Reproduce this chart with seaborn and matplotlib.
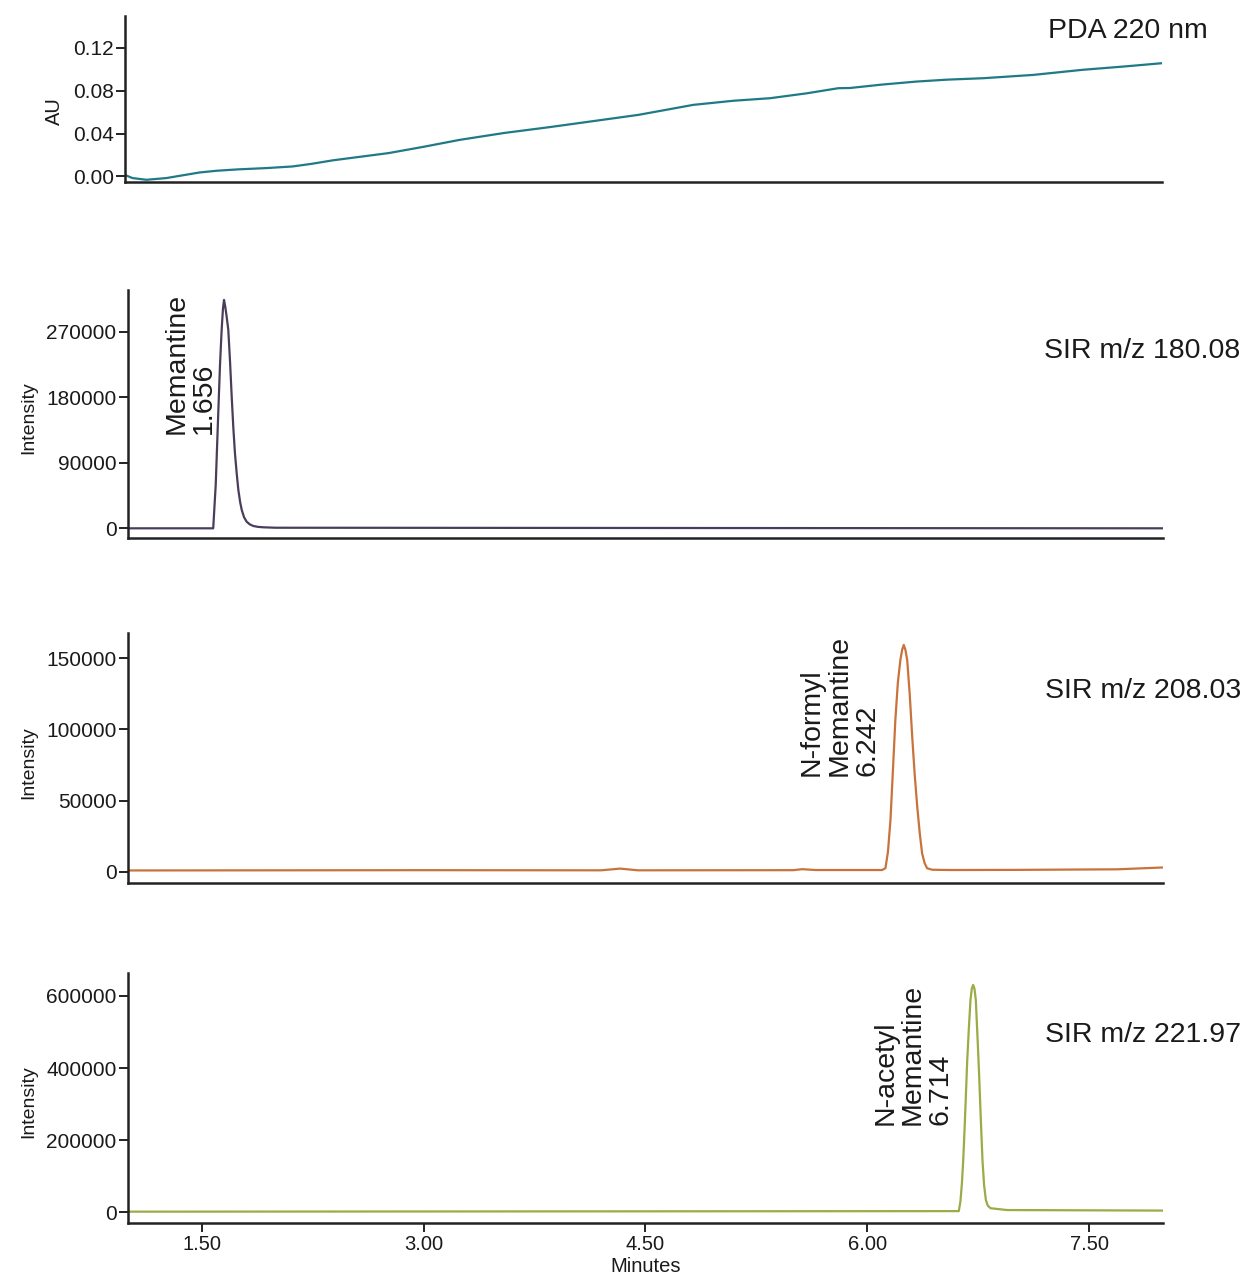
import matplotlib
matplotlib.use("Agg")
import matplotlib.pyplot as plt
import seaborn as sns
import pandas as pd

# ---------------- data ----------------
pda_time = [0.981, 1.036, 1.13, 1.265, 1.489, 1.604, 1.75, 1.942, 2.118, 2.25, 2.39,
            2.77, 3.0, 3.25, 3.55, 3.86, 4.15, 4.46, 4.83, 5.1, 5.35, 5.6, 5.81, 5.89,
            6.1, 6.34, 6.55, 6.79, 7.13, 7.46, 7.75, 8.0]
pda_au = [0.0016, -0.0015, -0.0031, -0.0015, 0.0037, 0.0053, 0.0066, 0.0078, 0.0093,
          0.0118, 0.015, 0.0218, 0.0275, 0.0341, 0.0405, 0.046, 0.0515, 0.0574, 0.0667,
          0.0705, 0.0729, 0.0775, 0.0822, 0.0824, 0.0855, 0.0884, 0.0902, 0.0915,
          0.0946, 0.0993, 0.1025, 0.1055]

sir180_time = [1.0, 1.578, 1.595, 1.612, 1.624, 1.635, 1.644, 1.651, 1.659, 1.668,
               1.680, 1.692, 1.703, 1.714, 1.725, 1.737, 1.748, 1.760, 1.771, 1.787,
               1.804, 1.825, 1.849, 1.880, 1.917, 2.0, 8.0]
sir180_int = [0, 0, 60000, 158000, 225000, 272500, 302000, 313700, 305000, 292000,
              272500, 228000, 180800, 138000, 103000, 75000, 52600, 36000, 25100,
              15000, 9100, 5500, 3200, 2000, 1400, 800, 0]

sir208_time = [1.0, 2.0, 3.0, 4.2, 4.33, 4.45, 5.5, 5.56, 5.65, 6.10, 6.123, 6.14,
               6.157, 6.173, 6.190, 6.207, 6.224, 6.236, 6.247, 6.258, 6.270, 6.287,
               6.304, 6.321, 6.338, 6.355, 6.371, 6.388, 6.405, 6.44, 6.56, 7.0, 7.69,
               8.0]
sir208_int = [900, 1000, 1100, 1000, 2200, 1000, 1100, 1800, 1200, 1200, 2500, 14000,
              36400, 70000, 106700, 133000, 148900, 156000, 159400, 156000, 148900,
              125000, 94900, 68000, 45700, 27000, 12900, 6000, 2400, 1400, 1200, 1300,
              1700, 3000]

sir222_time = [1.0, 6.619, 6.630, 6.640, 6.649, 6.660, 6.676, 6.687, 6.698, 6.707,
               6.716, 6.725, 6.734, 6.745, 6.757, 6.768, 6.779, 6.790, 6.802, 6.815,
               6.834, 6.946, 8.0]
sir222_int = [1500, 3000, 30000, 80000, 145000, 250000, 422000, 510000, 589000, 620000,
              630500, 620000, 589000, 490000, 376000, 255000, 145000, 75000, 34000,
              18000, 11000, 6000, 4500]

panel_titles = ["PDA 220 nm", "SIR m/z 180.08", "SIR m/z 208.03", "SIR m/z 221.97"]
y_labels = ["AU", "Intensity", "Intensity", "Intensity"]
y_ticks = [[0.0, 0.04, 0.08, 0.12],
           [0, 90000, 180000, 270000],
           [0, 50000, 100000, 150000],
           [0, 200000, 400000, 600000]]
y_ticklabels = [["0.00", "0.04", "0.08", "0.12"],
                ["0", "90000", "180000", "270000"],
                ["0", "50000", "100000", "150000"],
                ["0", "200000", "400000", "600000"]]
x_ticks = [1.5, 3.0, 4.5, 6.0, 7.5]
x_ticklabels = ["1.50", "3.00", "4.50", "6.00", "7.50"]
x_label = "Minutes"

peak_labels = [None, "Memantine\n1.656", "N-formyl\nMemantine\n6.242",
               "N-acetyl\nMemantine\n6.714"]
peak_label_pos = [None, (1.421, 129600), (5.812, 67300), (6.309, 242200)]

# ---------------- style ----------------
sns.set_theme(style="ticks")
plt.rcParams["font.family"] = ["Liberation Sans", "DejaVu Sans"]
TXT = "#1a1a1a"
SPINE = "#222222"

colors = ["#1f7a86", "#4a3d5c", "#c8733c", "#9aac45"]
series = [(pda_time, pda_au), (sir180_time, sir180_int),
          (sir208_time, sir208_int), (sir222_time, sir222_int)]

fig = plt.figure(figsize=(12.51, 12.77), dpi=100)

# axes rectangles in figure fractions
rects = [[0.0999, 0.8577, 0.8289, 0.1298],
         [0.1021, 0.5787, 0.8276, 0.1942],
         [0.1021, 0.3085, 0.8276, 0.1958],
         [0.1021, 0.0423, 0.8276, 0.1958]]
ylims = [(-0.0049, 0.1495), (-13300, 327300), (-7950, 167800), (-29900, 663800)]
xlims = [(0.985, 8.0), (1.0, 8.0), (1.0, 8.0), (1.0, 8.0)]
title_pos = [(0.8377, 1 - 38.3 / 1277), (0.8345, 1 - 358.5 / 1277),
             (0.8353, 1 - 698 / 1277), (0.8353, 1 - 1041.7 / 1277)]
ylabel_x = [-0.0588, -0.0878, -0.0878, -0.0878]
ylabel_y = [0.428, 0.486, 0.48, 0.487]

for i in range(4):
    ax = fig.add_axes(rects[i])
    t, v = series[i]
    df = pd.DataFrame({"time": t, "value": v})
    sns.lineplot(data=df, x="time", y="value", ax=ax, color=colors[i],
                 linewidth=1.6, estimator=None, sort=False)
    ax.set_xlim(*xlims[i])
    ax.set_ylim(*ylims[i])
    ax.set_yticks(y_ticks[i])
    ax.set_yticklabels(y_ticklabels[i], fontsize=15, color=TXT)
    sns.despine(ax=ax)
    for s in ["left", "bottom"]:
        ax.spines[s].set_linewidth(1.8)
        ax.spines[s].set_color(SPINE)
    ax.tick_params(axis="y", length=6.5, width=1.4, pad=1.5, color=SPINE)
    if i == 3:
        ax.set_xticks(x_ticks)
        ax.set_xticklabels(x_ticklabels, fontsize=14.5, color=TXT)
        ax.tick_params(axis="x", length=6.5, width=1.4, pad=2, color=SPINE)
        ax.set_xlabel(x_label, fontsize=14.5, color=TXT, labelpad=2)
    else:
        ax.set_xticks([])
        ax.set_xlabel("")
    ax.set_ylabel(y_labels[i], fontsize=14 if i else 14.5, color=TXT)
    ax.yaxis.set_label_coords(ylabel_x[i], ylabel_y[i])
    ax.set_facecolor("white")

    fig.text(title_pos[i][0], title_pos[i][1], panel_titles[i], fontsize=20.5,
             color=TXT, ha="left", va="baseline")
    if peak_labels[i]:
        px, py = peak_label_pos[i]
        ax.text(px, py, peak_labels[i], rotation=90, fontsize=20.5, color=TXT,
                ha="center", va="bottom", multialignment="left", linespacing=1.08)

fig.savefig("out.png", dpi=100, facecolor="white")
